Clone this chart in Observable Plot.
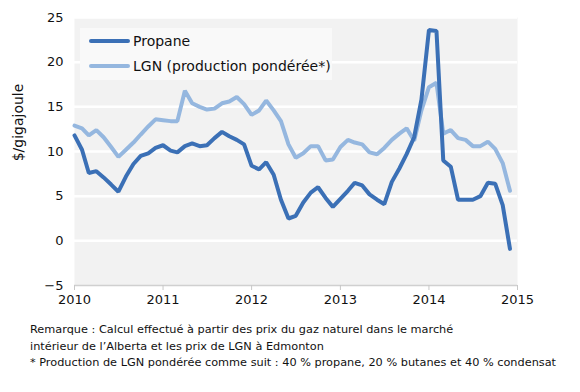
<!DOCTYPE html>
<html>
<head>
<meta charset="utf-8">
<script src="https://cdn.jsdelivr.net/npm/d3@7"></script>
<script src="https://cdn.jsdelivr.net/npm/@observablehq/plot@0.6"></script>
<style>
  html, body { margin: 0; padding: 0; background: #fff; }
  body { width: 580px; height: 392px; overflow: hidden; font-family: "DejaVu Sans", sans-serif; }
  #wrap { position: relative; width: 580px; }
  #legend { position: absolute; left: 80px; top: 28px; width: 252px; height: 52px; background: #f9f9f9; }
  .item { position: absolute; left: 9px; height: 16px; display: flex; align-items: center; font-size: 14px; color: #111; }
  .swatch { width: 41px; height: 4px; border-radius: 2px; margin-right: 3px; }
  #caption { font-size: 11.3px; color: #111; margin-left: 30px; margin-top: 10px; line-height: 16.5px; }
</style>
</head>
<body>
<div id="wrap">
  <div id="chart"></div>
  <div id="legend"></div>
</div>
<div id="caption"></div>
<script>
const seriesNames = ["Propane", "LGN (production pondérée*)"];
const seriesColors = ["#3b70b6", "#95b7df"];
const yearTicks = [2010, 2011, 2012, 2013, 2014, 2015];
const yTicks = [-5, 0, 5, 10, 15, 20, 25];
const months = d3.utcMonth.range(new Date(Date.UTC(2010, 0, 1)), new Date(Date.UTC(2015, 0, 1)));

const propane = [
  11.8, 10.2, 7.6, 7.8, 7.1, 6.3, 5.5, 7.2, 8.6, 9.5, 9.8, 10.4,
  10.7, 10.1, 9.9, 10.6, 10.9, 10.6, 10.7, 11.5, 12.2, 11.7, 11.3, 10.8,
  8.4, 8.0, 8.8, 7.4, 4.6, 2.5, 2.8, 4.3, 5.4, 6.0, 4.8, 3.8,
  4.7, 5.6, 6.5, 6.2, 5.2, 4.6, 4.1, 6.6, 8.1, 9.7, 11.6, 15.8,
  23.6, 23.5, 9.0, 8.3, 4.6, 4.6, 4.6, 5.0, 6.5, 6.4, 4.0, -0.9
];
const lgn = [
  12.9, 12.6, 11.8, 12.4, 11.6, 10.5, 9.4, 10.2, 11.0, 11.9, 12.8, 13.6,
  13.5, 13.4, 13.4, 16.8, 15.4, 15.0, 14.7, 14.8, 15.4, 15.6, 16.1, 15.3,
  14.1, 14.6, 15.7, 14.6, 13.4, 10.8, 9.3, 9.8, 10.6, 10.6, 9.0, 9.1,
  10.5, 11.3, 11.0, 10.8, 9.9, 9.7, 10.4, 11.3, 12.0, 12.6, 11.2, 14.6,
  17.2, 17.7, 12.0, 12.4, 11.5, 11.3, 10.6, 10.6, 11.1, 10.3, 8.7, 5.6
];
const captionLines = [
  "Remarque : Calcul effectué à partir des prix du gaz naturel dans le marché",
  "intérieur de l’Alberta et les prix de LGN à Edmonton",
  "* Production de LGN pondérée comme suit : 40 % propane, 20 % butanes et 40 % condensat"
];

const rows = [];
months.forEach((m, i) => {
  rows.push({date: m, value: propane[i], series: seriesNames[0]});
  rows.push({date: m, value: lgn[i], series: seriesNames[1]});
});
const yearDates = yearTicks.map(y => new Date(Date.UTC(y, 0, 1)));

const chart = Plot.plot({
  width: 580,
  height: 312,
  marginLeft: 74,
  marginRight: 63,
  marginTop: 17,
  marginBottom: 27,
  style: {fontFamily: "DejaVu Sans, sans-serif", fontSize: "13px", color: "#111", background: "#fff"},
  x: {type: "utc", domain: [yearDates[0], yearDates[yearDates.length - 1]], ticks: yearDates, tickFormat: d3.utcFormat("%Y"), label: null},
  y: {domain: [-5, 25], ticks: yTicks, label: null},
  color: {domain: seriesNames, range: seriesColors},
  marks: [
    Plot.frame({fill: "#f2f2f2", stroke: null}),
    Plot.gridY(yTicks.slice(1), {stroke: "#fff", strokeOpacity: 1, strokeWidth: 2.5}),
    Plot.ruleY([-5], {stroke: "#d0d0d0", strokeWidth: 1.5}),
    Plot.axisX({ticks: yearDates, tickFormat: d3.utcFormat("%Y"), tickSize: 5, tickPadding: 4, stroke: "#c8c8c8", fontSize: 13, label: null}),
    Plot.axisY({ticks: yTicks, tickSize: 0, tickPadding: 11, fontSize: 13, label: null}),
    Plot.text(["$/gigajoule"], {frameAnchor: "left", textAnchor: "middle", dx: -56, dy: -29, rotate: -90, fontSize: 14, fill: "#111"}),
    Plot.line(rows.filter(d => d.series === seriesNames[1]), {x: "date", y: "value", stroke: "series", strokeWidth: 4, strokeLinejoin: "miter"}),
    Plot.line(rows.filter(d => d.series === seriesNames[0]), {x: "date", y: "value", stroke: "series", strokeWidth: 4, strokeLinejoin: "miter"})
  ]
});
document.getElementById("chart").appendChild(chart);

const legend = document.getElementById("legend");
seriesNames.forEach((name, i) => {
  const item = document.createElement("div");
  item.className = "item";
  item.style.top = (5 + i * 25) + "px";
  const sw = document.createElement("div");
  sw.className = "swatch";
  sw.style.background = seriesColors[i];
  const t = document.createElement("span");
  t.textContent = name;
  item.appendChild(sw);
  item.appendChild(t);
  legend.appendChild(item);
});

const cap = document.getElementById("caption");
captionLines.forEach(line => {
  const d = document.createElement("div");
  d.textContent = line;
  cap.appendChild(d);
});
</script>
</body>
</html>
